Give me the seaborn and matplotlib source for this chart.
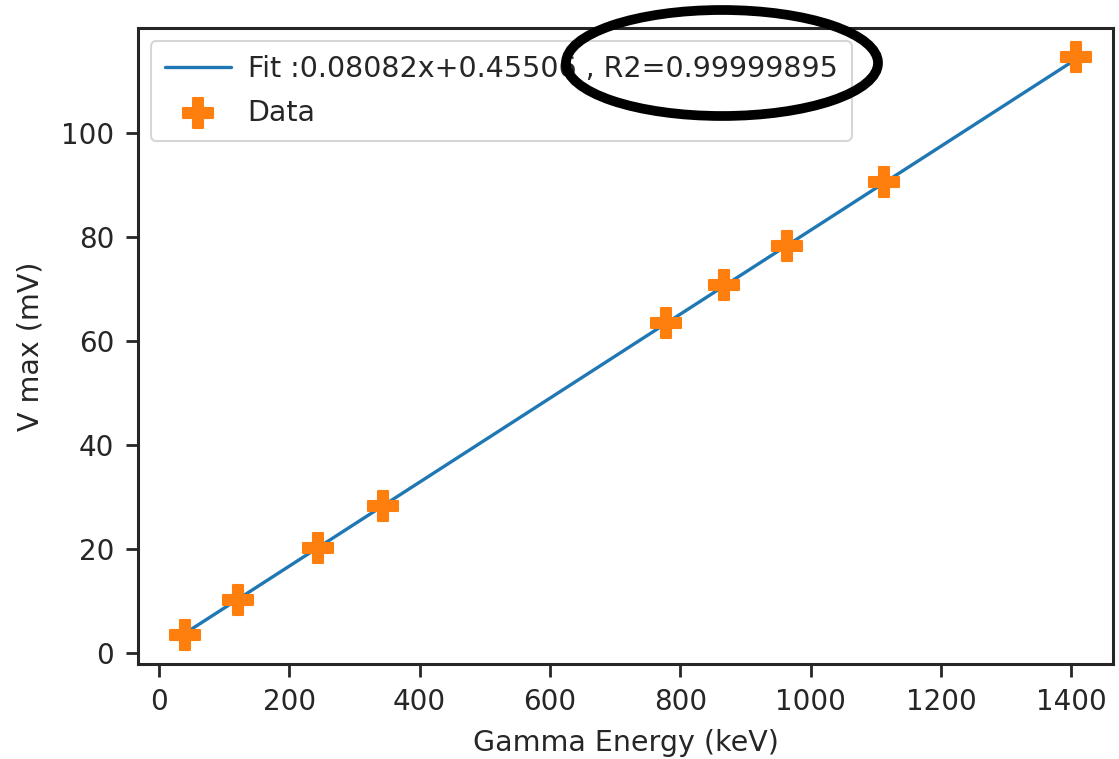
import numpy as np
import pandas as pd
import matplotlib
matplotlib.use("Agg")
import matplotlib.pyplot as plt
from matplotlib.patches import Ellipse
import seaborn as sns

# Calibration points: gamma line energies and measured pulse maxima
energy_kev = [39.5, 121.8, 244.7, 344.3, 778.9, 867.4, 964.1, 1112.1, 1408.0]
v_max_mv = [3.4, 10.2, 20.2, 28.2, 63.5, 70.8, 78.3, 90.5, 114.6]

# Linear fit reported in the legend
slope = 0.08082
intercept = 0.45506
r2_text = "0.99999895"

sns.set_style("ticks")
plt.rcParams["font.family"] = ["DejaVu Sans"]

fig = plt.figure(figsize=(11.19, 7.59), dpi=100)
ax = fig.add_axes([0.1233, 0.1252, 0.8713, 0.8379])

fit_x = np.array([min(energy_kev), max(energy_kev)])
fit_df = pd.DataFrame({"x": fit_x, "y": slope * fit_x + intercept})
data_df = pd.DataFrame({"x": energy_kev, "y": v_max_mv})

sns.lineplot(data=fit_df, x="x", y="y", ax=ax, color="#1f77b4", linewidth=2.4,
             label=f"Fit :{slope}x+{intercept} , R2={r2_text}")
sns.scatterplot(data=data_df, x="x", y="y", ax=ax, marker="P", s=480,
                color="#ff7f0e", edgecolor="#ff7f0e", linewidth=1.5,
                label="Data", zorder=3)

ax.set_xlim(-32, 1464)
ax.set_ylim(-2.2, 120.2)
ax.set_xticks(range(0, 1401, 200))
ax.set_yticks(range(0, 101, 20))
ax.set_xlabel("Gamma Energy (keV)", fontsize=20.5, labelpad=10)
ax.set_ylabel("V max (mV)", fontsize=20.5, labelpad=12)
ax.tick_params(labelsize=20, width=2, length=9, color="#262626", pad=8)
for s in ax.spines.values():
    s.set_linewidth(2.2)
    s.set_color("#262626")

leg = ax.legend(loc="upper left", fontsize=20.5, frameon=True, borderpad=0.5,
                handlelength=2.3, handletextpad=0.6, labelspacing=0.55,
                borderaxespad=0.45)
leg.get_frame().set_linewidth(1.5)

# Highlight ring drawn over the R2 value
ring = Ellipse((722, 759 - 63), width=312, height=106, transform=None,
               fill=False, edgecolor="black", linewidth=7, clip_on=False, zorder=10)
fig.patches.append(ring)

fig.savefig("out.png", dpi=100)
